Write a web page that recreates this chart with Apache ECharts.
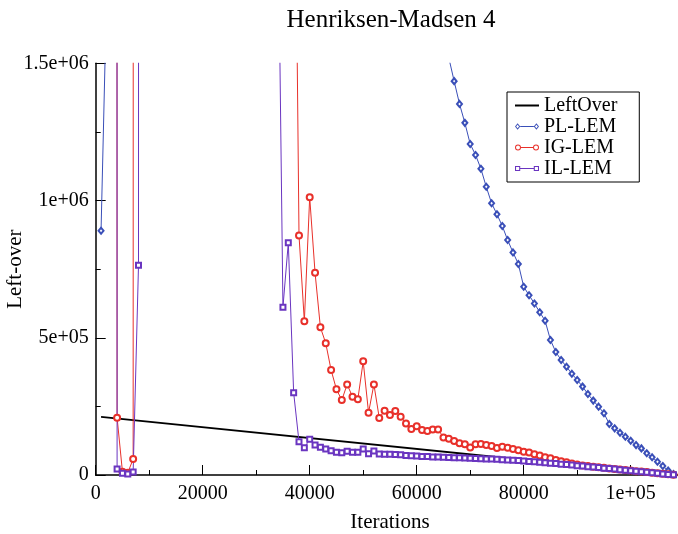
<!DOCTYPE html>
<html><head><meta charset="utf-8">
<script src="https://cdn.jsdelivr.net/npm/echarts@6/dist/echarts.min.js"></script>
<style>html,body{margin:0;padding:0;background:#fff}#c{width:678px;height:534px}</style>
</head><body><div id="c"></div>
<script>
const chartTitle = 'Henriksen-Madsen 4';
const xName = 'Iterations';
const yName = 'Left-over';
const seriesNames = ['LeftOver', 'PL-LEM', 'IG-LEM', 'IL-LEM'];
const xTickLabels = {0: '0', 20000: '20000', 40000: '40000', 60000: '60000', 80000: '80000', 100000: '1e+05'};
const yTickLabels = {0: '0', 500000: '5e+05', 1000000: '1e+06', 1500000: '1.5e+06'};

const leftOverIter = [1000, 108000];
const leftOverVal = [212000, 0];

const plIter = [1000, 2000, 65000, 66000, 67000, 68000, 69000, 70000, 71000, 72000, 73000, 74000, 75000, 76000, 77000, 78000, 79000, 80000, 81000, 82000, 83000, 84000, 85000, 86000, 87000, 88000, 89000, 90000, 91000, 92000, 93000, 94000, 95000, 96000, 97000, 98000, 99000, 100000, 101000, 102000, 103000, 104000, 105000, 106000, 107000, 108000];
const plVal = [890000, 1720000, 1610000, 1520000, 1435000, 1352000, 1283000, 1206000, 1166000, 1116000, 1050000, 990000, 950000, 907000, 856000, 811000, 769000, 686000, 655000, 625000, 593000, 562000, 492000, 448000, 419000, 394500, 369000, 346000, 322000, 295000, 271000, 249000, 225000, 186000, 170000, 154000, 139500, 125000, 109000, 97000, 79000, 64500, 48500, 33000, 16000, 3600];

const igIter = [3000, 4000, 5000, 6000, 7000, 8000, 37000, 38000, 39000, 40000, 41000, 42000, 43000, 44000, 45000, 46000, 47000, 48000, 49000, 50000, 51000, 52000, 53000, 54000, 55000, 56000, 57000, 58000, 59000, 60000, 61000, 62000, 63000, 64000, 65000, 66000, 67000, 68000, 69000, 70000, 71000, 72000, 73000, 74000, 75000, 76000, 77000, 78000, 79000, 80000, 81000, 82000, 83000, 84000, 85000, 86000, 87000, 88000, 89000, 90000, 91000, 92000, 93000, 94000, 95000, 96000, 97000, 98000, 99000, 100000, 101000, 102000, 103000, 104000, 105000, 106000, 107000, 108000];
const igVal = [100000000, 208700, 12000, 8400, 58300, 100000000, 2800000, 873000, 560000, 1012000, 737000, 538000, 480000, 382500, 312000, 273000, 330000, 285000, 276000, 414000, 227000, 330000, 208000, 234000, 219000, 233000, 212000, 188000, 168000, 178000, 164000, 160000, 166000, 166000, 137000, 132000, 124000, 116000, 112000, 100000, 112000, 113000, 109000, 106000, 98000, 103000, 99000, 95000, 90000, 85000, 82000, 76000, 71000, 65000, 61000, 55000, 50000, 46000, 42000, 38000, 35000, 32500, 30000, 28000, 26000, 24000, 22000, 20000, 18000, 16000, 14000, 12500, 10500, 8500, 6500, 4500, 2500, 800];

const ilIter = [3000, 4000, 5000, 6000, 7000, 8000, 9000, 34000, 35000, 36000, 37000, 38000, 39000, 40000, 41000, 42000, 43000, 44000, 45000, 46000, 47000, 48000, 49000, 50000, 51000, 52000, 53000, 54000, 55000, 56000, 57000, 58000, 59000, 60000, 61000, 62000, 63000, 64000, 65000, 66000, 67000, 68000, 69000, 70000, 71000, 72000, 73000, 74000, 75000, 76000, 77000, 78000, 79000, 80000, 81000, 82000, 83000, 84000, 85000, 86000, 87000, 88000, 89000, 90000, 91000, 92000, 93000, 94000, 95000, 96000, 97000, 98000, 99000, 100000, 101000, 102000, 103000, 104000, 105000, 106000, 107000, 108000];
const ilVal = [100000000, 21900, 6200, 3600, 10900, 764000, 100000000, 2200000, 611000, 846000, 300000, 121000, 99500, 130000, 109000, 101000, 94700, 88500, 82700, 81200, 86300, 82700, 82700, 94700, 77000, 87400, 76500, 76000, 75500, 75000, 74000, 71000, 70000, 69000, 67500, 67000, 66000, 65500, 64500, 64000, 63000, 62500, 61500, 61000, 60000, 59000, 58500, 58000, 57000, 56000, 55000, 54000, 52500, 51000, 49500, 48000, 46500, 45000, 43000, 41500, 39500, 38000, 36000, 34000, 32500, 30500, 29000, 27000, 25000, 23500, 21500, 19500, 17500, 15500, 13500, 12000, 10000, 8000, 6000, 4000, 2000, 500];

function zip(xs, ys) { return xs.map((x, i) => [x, ys[i]]); }

// legend keys: a short line with a hollow marker at each end
const ICON_LINE = 'path://M0,4 L24,4 L24,6 L0,6 Z';
const ICON_DIAMOND = 'path://M3,2 L5.5,5 L3,8 L0.5,5 Z M3,3.3 L1.6,5 L3,6.7 L4.4,5 Z M5.5,4.5 L18.5,4.5 L18.5,5.5 L5.5,5.5 Z M21,2 L23.5,5 L21,8 L18.5,5 Z M21,3.3 L19.6,5 L21,6.7 L22.4,5 Z';
const ICON_CIRCLE = 'path://M0,5 A3,3 0 1,1 6,5 A3,3 0 1,1 0,5 Z M1,5 A2,2 0 1,0 5,5 A2,2 0 1,0 1,5 Z M6,4.5 L18,4.5 L18,5.5 L6,5.5 Z M18,5 A3,3 0 1,1 24,5 A3,3 0 1,1 18,5 Z M19,5 A2,2 0 1,0 23,5 A2,2 0 1,0 19,5 Z';
const ICON_RECT = 'path://M0.5,2.5 L5.5,2.5 L5.5,7.5 L0.5,7.5 Z M1.5,3.5 L1.5,6.5 L4.5,6.5 L4.5,3.5 Z M5.5,4.5 L18.5,4.5 L18.5,5.5 L5.5,5.5 Z M18.5,2.5 L23.5,2.5 L23.5,7.5 L18.5,7.5 Z M19.5,3.5 L19.5,6.5 L22.5,6.5 L22.5,3.5 Z';

const FONT = 'Liberation Serif';
const chart = echarts.init(document.getElementById('c'), null, {renderer: 'canvas'});

const xBase = {type: 'value', min: 0, max: 110000, position: 'bottom', splitLine: {show: false}};
const yBase = {type: 'value', min: 0, max: 1500000, position: 'left', splitLine: {show: false}};

chart.setOption({
  animation: false,
  backgroundColor: '#fff',
  title: {
    text: chartTitle, left: 386, top: 3, textAlign: 'center',
    textStyle: {fontFamily: FONT, fontSize: 25, fontWeight: 'normal', color: '#000'}
  },
  grid: {left: 95.7, top: 63.3, width: 588.5, height: 411.7, containLabel: false, outerBoundsMode: 'none'},
  legend: {
    orient: 'vertical', left: 507, top: 92,
    padding: [3, 22, 3, 8], borderColor: '#000', borderWidth: 1, borderRadius: 0,
    itemWidth: 24, itemHeight: 10, itemGap: 0, itemTextGap: 12,
    itemStyle: {borderWidth: 0},
    textStyle: {fontFamily: FONT, fontSize: 20, lineHeight: 21, color: '#000'},
    data: [
      {name: seriesNames[0], icon: ICON_LINE},
      {name: seriesNames[1], icon: ICON_DIAMOND},
      {name: seriesNames[2], icon: ICON_CIRCLE},
      {name: seriesNames[3], icon: ICON_RECT}
    ]
  },
  xAxis: [
    Object.assign({}, xBase, {
      interval: 20000,
      name: xName, nameLocation: 'middle', nameGap: 37, nameMoveOverlap: false,
      nameTextStyle: {fontFamily: FONT, fontSize: 21, color: '#000'},
      axisLine: {lineStyle: {color: '#000', width: 1.5}},
      axisTick: {inside: true, length: 10, lineStyle: {color: '#000', width: 1}},
      axisLabel: {margin: 9, fontFamily: FONT, fontSize: 20, color: '#000',
        formatter: v => (v in xTickLabels ? xTickLabels[v] : '')}
    }),
    Object.assign({}, xBase, {
      interval: 10000,
      axisLine: {show: false},
      axisTick: {inside: true, length: 5, lineStyle: {color: '#000', width: 1}},
      axisLabel: {show: false}
    })
  ],
  yAxis: [
    Object.assign({}, yBase, {
      interval: 500000,
      name: yName, nameLocation: 'middle', nameGap: 70, nameRotate: 90, nameMoveOverlap: false,
      nameTextStyle: {fontFamily: FONT, fontSize: 21, color: '#000'},
      axisLine: {lineStyle: {color: '#000', width: 1.5}},
      axisTick: {inside: true, length: 10, lineStyle: {color: '#000', width: 1}},
      axisLabel: {margin: 7, fontFamily: FONT, fontSize: 20, color: '#000',
        formatter: v => (v in yTickLabels ? yTickLabels[v] : '')}
    }),
    Object.assign({}, yBase, {
      interval: 250000,
      axisLine: {show: false},
      axisTick: {inside: true, length: 5, lineStyle: {color: '#000', width: 1}},
      axisLabel: {show: false}
    })
  ],
  series: [
    {name: seriesNames[0], type: 'line', data: zip(leftOverIter, leftOverVal), symbol: 'none',
     color: '#000', lineStyle: {color: '#000', width: 1.8}, clip: true},
    {name: seriesNames[1], type: 'line', data: zip(plIter, plVal), symbol: 'emptyDiamond', symbolSize: [5, 6],
     color: '#3a4fb8', lineStyle: {color: '#3a4fb8', width: 1}, itemStyle: {borderWidth: 1}, clip: true},
    {name: seriesNames[2], type: 'line', data: zip(igIter, igVal), symbol: 'emptyCircle', symbolSize: 6,
     color: '#e8302a', lineStyle: {color: '#e8302a', width: 1}, itemStyle: {borderWidth: 1}, clip: true},
    {name: seriesNames[3], type: 'line', data: zip(ilIter, ilVal), symbol: 'emptyRect', symbolSize: 5,
     color: '#6a35c0', lineStyle: {color: '#6a35c0', width: 1}, itemStyle: {borderWidth: 1}, clip: true}
  ]
});
</script></body></html>
